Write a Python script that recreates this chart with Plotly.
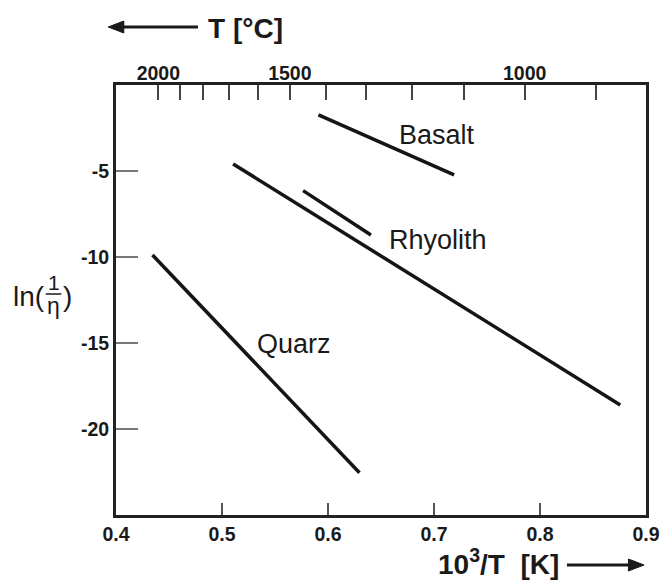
import plotly.graph_objects as go

# ---- data ----
basalt_x = [0.591, 0.719]
basalt_y = [-1.74, -5.23]
rhyolith_x = [0.5765, 0.6405]
rhyolith_y = [-6.14, -8.72]
long_x = [0.5105, 0.8757]
long_y = [-4.59, -18.60]
quarz_x = [0.4344, 0.6297]
quarz_y = [-9.88, -22.54]

x_ticks = [0.4, 0.5, 0.6, 0.7, 0.8, 0.9]
y_ticks = [-5, -10, -15, -20]
temp_c_labeled = [2000, 1500, 1000]
temp_c_minor = [1900, 1800, 1700, 1600, 1400, 1300, 1200, 1100, 900]

labels = ["Basalt", "Rhyolith", "Quarz"]
label_x = [0.7026, 0.7035, 0.568]
label_y = [-2.91, -9.01, -15.06]

# ---- figure geometry ----
W, H = 672, 583
L, R, T, B = 116, 13, 85, 68
PW, PH = W - L - R, H - T - B


def px(xp):
    return (xp - L) / PW


def py(yp):
    return (H - B - yp) / PH


LINE = "#151515"
DARK = "#1a1a1a"
FONT = "Liberation Sans, Arial, sans-serif"

fig = go.Figure()
for xs, ys in [(basalt_x, basalt_y), (rhyolith_x, rhyolith_y), (long_x, long_y), (quarz_x, quarz_y)]:
    fig.add_trace(go.Scatter(x=xs, y=ys, mode="lines", line=dict(color=LINE, width=3.5),
                             showlegend=False, hoverinfo="skip"))

# invisible trace on the top axis so it is drawn
fig.add_trace(go.Scatter(x=[0.4, 0.9], y=[-25, -25], xaxis="x2", mode="markers",
                         marker=dict(opacity=0), showlegend=False, hoverinfo="skip"))

for t, xv, yv in zip(labels, label_x, label_y):
    fig.add_annotation(x=xv, y=yv, text=t, showarrow=False,
                       font=dict(family=FONT, size=27, color=DARK))

top_vals = [1000.0 / (c + 273.0) for c in temp_c_labeled]
top_minor = [1000.0 / (c + 273.0) for c in temp_c_minor]

tickfont = dict(family=FONT, size=19.5, color=DARK, weight="bold")

fig.update_layout(
    width=W, height=H,
    margin=dict(l=L, r=R, t=T, b=B),
    plot_bgcolor="white", paper_bgcolor="white",
    xaxis=dict(range=[0.4, 0.9], tickvals=x_ticks, ticktext=[f"{v:.1f}" for v in x_ticks],
               ticks="inside", ticklen=12, tickwidth=1.5, tickcolor="#555",
               showline=True, linewidth=3, linecolor="#222", mirror=True,
               showgrid=False, zeroline=False, tickfont=tickfont),
    xaxis2=dict(range=[0.4, 0.9], overlaying="x", side="top", tickvals=top_vals,
                ticktext=[str(c) for c in temp_c_labeled], ticks="inside", ticklen=15,
                tickwidth=1.5, tickcolor="#444",
                minor=dict(tickmode="array", tickvals=top_minor, ticks="inside", ticklen=15,
                           tickwidth=1.5, tickcolor="#444", showgrid=False),
                showline=False, showgrid=False, zeroline=False, tickfont=tickfont),
    yaxis=dict(range=[-25, 0], tickvals=y_ticks, ticktext=[str(v) for v in y_ticks],
               ticks="inside", ticklen=22, tickwidth=1.5, tickcolor="#777",
               showline=True, linewidth=3, linecolor="#222", mirror=True,
               showgrid=False, zeroline=False, tickfont=tickfont),
)

titlefont = dict(family=FONT, size=28, color=DARK, weight="bold")
# top axis title with arrow pointing left
fig.add_annotation(xref="paper", yref="paper", x=px(208), y=py(29), text="T [°C]",
                   xanchor="left", yanchor="middle", showarrow=False, font=titlefont)
fig.add_shape(type="line", xref="paper", yref="paper", x0=px(120), x1=px(200),
              y0=py(27), y1=py(27), line=dict(color=DARK, width=3))
fig.add_shape(type="path", xref="paper", yref="paper",
              path=f"M {px(108)} {py(27)} L {px(124)} {py(21)} L {px(124)} {py(33)} Z",
              fillcolor=DARK, line=dict(color=DARK, width=1))
# bottom axis title with arrow pointing right
fig.add_annotation(xref="paper", yref="paper", x=px(572), y=py(562),
                   text="10<sup>3</sup>/T  [K]", xanchor="right", yanchor="middle",
                   showarrow=False, font=titlefont)
fig.add_shape(type="line", xref="paper", yref="paper", x0=px(578), x1=px(645),
              y0=py(565), y1=py(565), line=dict(color=DARK, width=3))
fig.add_shape(type="path", xref="paper", yref="paper",
              path=f"M {px(657)} {py(565)} L {px(641)} {py(559)} L {px(641)} {py(571)} Z",
              fillcolor=DARK, line=dict(color=DARK, width=1))

# y axis title ln(1/eta)
yfont = dict(family=FONT, size=28, color=DARK)
fig.add_annotation(xref="paper", yref="paper", x=px(8), y=py(296), text="ln(",
                   xanchor="left", yanchor="middle", showarrow=False, font=yfont)
fig.add_annotation(xref="paper", yref="paper", x=px(52), y=py(282), text="1",
                   xanchor="center", yanchor="middle", showarrow=False,
                   font=dict(family=FONT, size=21, color=DARK))
fig.add_annotation(xref="paper", yref="paper", x=px(52), y=py(306), text="η",
                   xanchor="center", yanchor="middle", showarrow=False,
                   font=dict(family=FONT, size=23, color=DARK))
fig.add_annotation(xref="paper", yref="paper", x=px(60), y=py(296), text=")",
                   xanchor="left", yanchor="middle", showarrow=False, font=yfont)
fig.add_shape(type="line", xref="paper", yref="paper", x0=px(44), x1=px(60),
              y0=py(294), y1=py(294), line=dict(color=DARK, width=1.5))

fig.write_html("out.html")
